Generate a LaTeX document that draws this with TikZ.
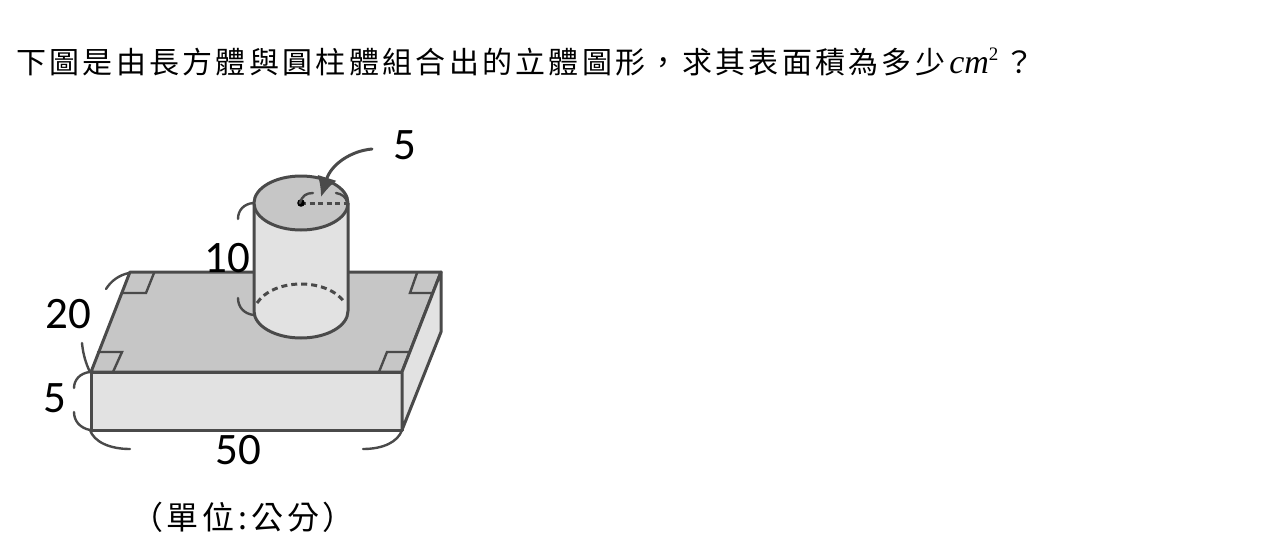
\documentclass[tikz,border=0pt]{standalone}
\usepackage{fontspec}
\setmainfont{Liberation Serif}
\newfontfamily\cjk[LetterSpace=11]{Noto Sans CJK TC}
\newfontfamily\cjkunit[LetterSpace=12]{Noto Sans CJK TC}
\newfontfamily\digits{Carlito}
\usetikzlibrary{arrows.meta}
\definecolor{inkline}{HTML}{4A4A4A}
\definecolor{shadeDark}{HTML}{C6C6C6}
\definecolor{shadeLight}{HTML}{E2E2E2}
\tikzset{
  edge/.style={draw=inkline,line width=3pt,line join=round},
  thinmark/.style={draw=inkline,line width=2.4pt,line cap=round},
  dim/.style={font=\digits\fontsize{45}{45}\selectfont,text=black,inner sep=0pt},
}
\begin{document}
\begin{tikzpicture}[x=1pt,y=-1pt]
\useasboundingbox (0,0) rectangle (1272,544);
\fill[white] (0,0) rectangle (1272,544);
% box corners
\coordinate (BL) at (130,272);
\coordinate (BR) at (441,272);
\coordinate (FR) at (402,372);
\coordinate (FL) at (91,372);
\coordinate (FLb) at (91,430);
\coordinate (FRb) at (402,430);
\coordinate (BRb) at (441,332);
% faces
\path[edge,fill=shadeDark] (BL) -- (BR) -- (FR) -- (FL) -- cycle;
\path[edge,fill=shadeLight] (FL) -- (FR) -- (FRb) -- (FLb) -- cycle;
\path[edge,fill=shadeLight] (BR) -- (BRb) -- (FRb) -- (FR) -- cycle;
% right angle marks
\draw[thinmark] (154,273) -- (146,293) -- (122,293);
\draw[thinmark] (417,273) -- (410,293) -- (433,293);
\draw[thinmark] (98,352) -- (122,352) -- (113,372);
\draw[thinmark] (379,372) -- (387,352) -- (410,352);
% cylinder
\path[fill=shadeLight] (254,203) -- (254,311) .. controls (254,326) and (275,338) .. (301,338) .. controls (327,338) and (348,326) .. (348,311) -- (348,203) -- cycle;
\draw[edge] (254,203) -- (254,311) .. controls (254,326) and (275,338) .. (301,338) .. controls (327,338) and (348,326) .. (348,311) -- (348,203);
\draw[edge,dashed,dash pattern=on 6pt off 4pt] (257,303) .. controls (265,291) and (282,284) .. (301,284) .. controls (320,284) and (337,291) .. (345,303);
\path[edge,fill=shadeDark] (301,203) ellipse [x radius=47,y radius=27];
% radius
\coordinate (centre) at (301,203);
\coordinate (rim) at (348,203);
\draw[draw=inkline,line width=3pt,dashed,dash pattern=on 5pt off 3.5pt] (centre) -- (rim);
\fill[black] (centre) circle (3.8);
\draw[thinmark] (300,203) .. controls (302,196) and (306,193) .. (313,193);
\draw[thinmark] (336,193) .. controls (342,194) and (346,197) .. (347,202);
% arrow
\coordinate (arrowstart) at (372,149);
\coordinate (arrowend) at (321,197);
\draw[thinmark,line width=3pt,-{Latex[length=20pt,width=20pt]}] (arrowstart) .. controls (350,151) and (331,165) .. (arrowend);
% dimension braces
\draw[thinmark] (238,219) .. controls (238,210) and (244,204) .. (253,203);
\draw[thinmark] (238,298) .. controls (238,307) and (244,314) .. (254,315);
\draw[thinmark] (106,289) .. controls (111,281) and (119,275) .. (129,273);
\draw[thinmark] (82,343) .. controls (83,354) and (86,364) .. (90,372);
\draw[thinmark] (90,372) .. controls (80,373) and (74,380) .. (74,388);
\draw[thinmark] (74,412) .. controls (74,421) and (80,428) .. (90,430);
\draw[thinmark] (90,430) .. controls (94,442) and (110,449) .. (130,449);
\draw[thinmark] (363,449) .. controls (383,449) and (398,442) .. (402,430);
% labels
\node[dim] (radiuslabel) at (405,145) {5};
\node[dim] (heightlabel) at (227,258) {10};
\node[dim] (depthlabel) at (68,314) {20};
\node[dim] (thicklabel) at (55,398) {5};
\node[dim] (widthlabel) at (238,450) {50};
\node[inner sep=0pt,anchor=base west] (title) at (16,73) {\fontsize{30}{30}\selectfont\cjk 下圖是由長方體與圓柱體組合出的立體圖形，求其表面積為多少\hspace{4pt}{\rmfamily\itshape\fontsize{34}{34}\selectfont cm}\raisebox{13pt}{\rmfamily\fontsize{19}{19}\selectfont 2}\hspace{6pt}？};
\node[inner sep=0pt] (unit) at (243,517) {\fontsize{32}{32}\selectfont\cjkunit （單位:公分）};
\end{tikzpicture}
\end{document}
